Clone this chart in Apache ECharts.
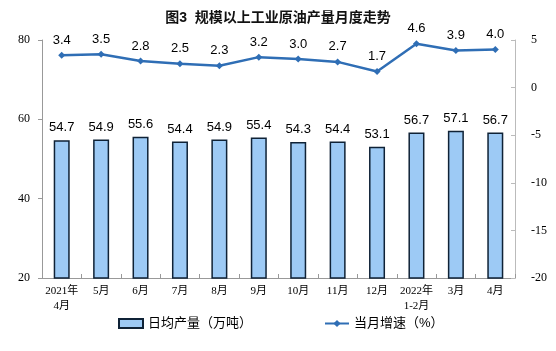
<!DOCTYPE html>
<html>
<head>
<meta charset="utf-8">
<script src="https://cdn.jsdelivr.net/npm/echarts@6/dist/echarts.min.js"></script>
<style>
  html, body { margin: 0; padding: 0; background: #fff; }
  #chart { width: 556px; height: 351px; }
</style>
</head>
<body>
<div id="chart"></div>
<script>
// 月份
const months = ['2021年\n4月', '5月', '6月', '7月', '8月', '9月', '10月', '11月', '12月', '2022年\n1-2月', '3月', '4月'];
// 日均产量（万吨）
const dailyOutput = [54.7, 54.9, 55.6, 54.4, 54.9, 55.4, 54.3, 54.4, 53.1, 56.7, 57.1, 56.7];
// 当月增速（%）
const monthGrowth = [3.4, 3.5, 2.8, 2.5, 2.3, 3.2, 3.0, 2.7, 1.7, 4.6, 3.9, 4.0];

const serif = '"Liberation Serif", "Noto Sans CJK SC", serif';
const sans = '"Liberation Sans", "Noto Sans CJK SC", sans-serif';

const chart = echarts.init(document.getElementById('chart'));

const option = {
  animation: false,
  title: {
    text: '图3  规模以上工业原油产量月度走势',
    left: 'center',
    top: 6,
    textStyle: { fontSize: 14, fontWeight: 'bold', color: '#111', fontFamily: sans }
  },
  legend: {
    bottom: 16,
    left: 113,
    itemGap: 72,
    itemWidth: 24,
    itemHeight: 9,
    textStyle: { fontSize: 13, color: '#000', fontFamily: sans },
    data: [
      { name: '日均产量（万吨）', icon: 'rect' },
      { name: '当月增速（%）' }
    ]
  },
  grid: { left: 42, right: 41, top: 40, bottom: 73 },
  xAxis: {
    type: 'category',
    data: months,
    axisLine: { onZero: false, lineStyle: { color: '#999' } },
    axisTick: { show: true, alignWithLabel: false, length: 4, inside: true, lineStyle: { color: '#999' } },
    axisLabel: { interval: 0, color: '#000', fontSize: 11, fontFamily: serif, lineHeight: 15, margin: 6 }
  },
  yAxis: [
    {
      type: 'value',
      min: 20, max: 80, interval: 20,
      axisLine: { show: true, lineStyle: { color: '#999' } },
      axisTick: { show: true, length: 4, lineStyle: { color: '#999' } },
      splitLine: { show: false },
      axisLabel: { color: '#000', fontSize: 12, fontFamily: serif, margin: 12 }
    },
    {
      type: 'value',
      min: -20, max: 5, interval: 5,
      axisLine: { show: true, lineStyle: { color: '#bbb' } },
      axisTick: { show: true, inside: true, length: 4, lineStyle: { color: '#bbb' } },
      splitLine: { show: false },
      axisLabel: { color: '#000', fontSize: 12, fontFamily: serif, margin: 16 }
    }
  ],
  series: [
    {
      name: '日均产量（万吨）',
      type: 'bar',
      barWidth: 16,
      data: dailyOutput,
      itemStyle: { color: '#9dcaf5', borderColor: '#0f2236', borderWidth: 1.5 },
      label: {
        show: true, position: 'top', distance: 6, color: '#000', fontSize: 13, fontFamily: sans,
        formatter: p => p.value.toFixed(1)
      }
    },
    {
      name: '当月增速（%）',
      type: 'line',
      yAxisIndex: 1,
      data: monthGrowth,
      symbol: 'diamond',
      symbolSize: 7,
      lineStyle: { color: '#2f6eb5', width: 2.5 },
      itemStyle: { color: '#2f6eb5' },
      label: {
        show: true, position: 'top', distance: 5, color: '#000', fontSize: 13, fontFamily: sans,
        formatter: p => p.value.toFixed(1)
      }
    }
  ]
};

chart.setOption(option);
</script>
</body>
</html>
